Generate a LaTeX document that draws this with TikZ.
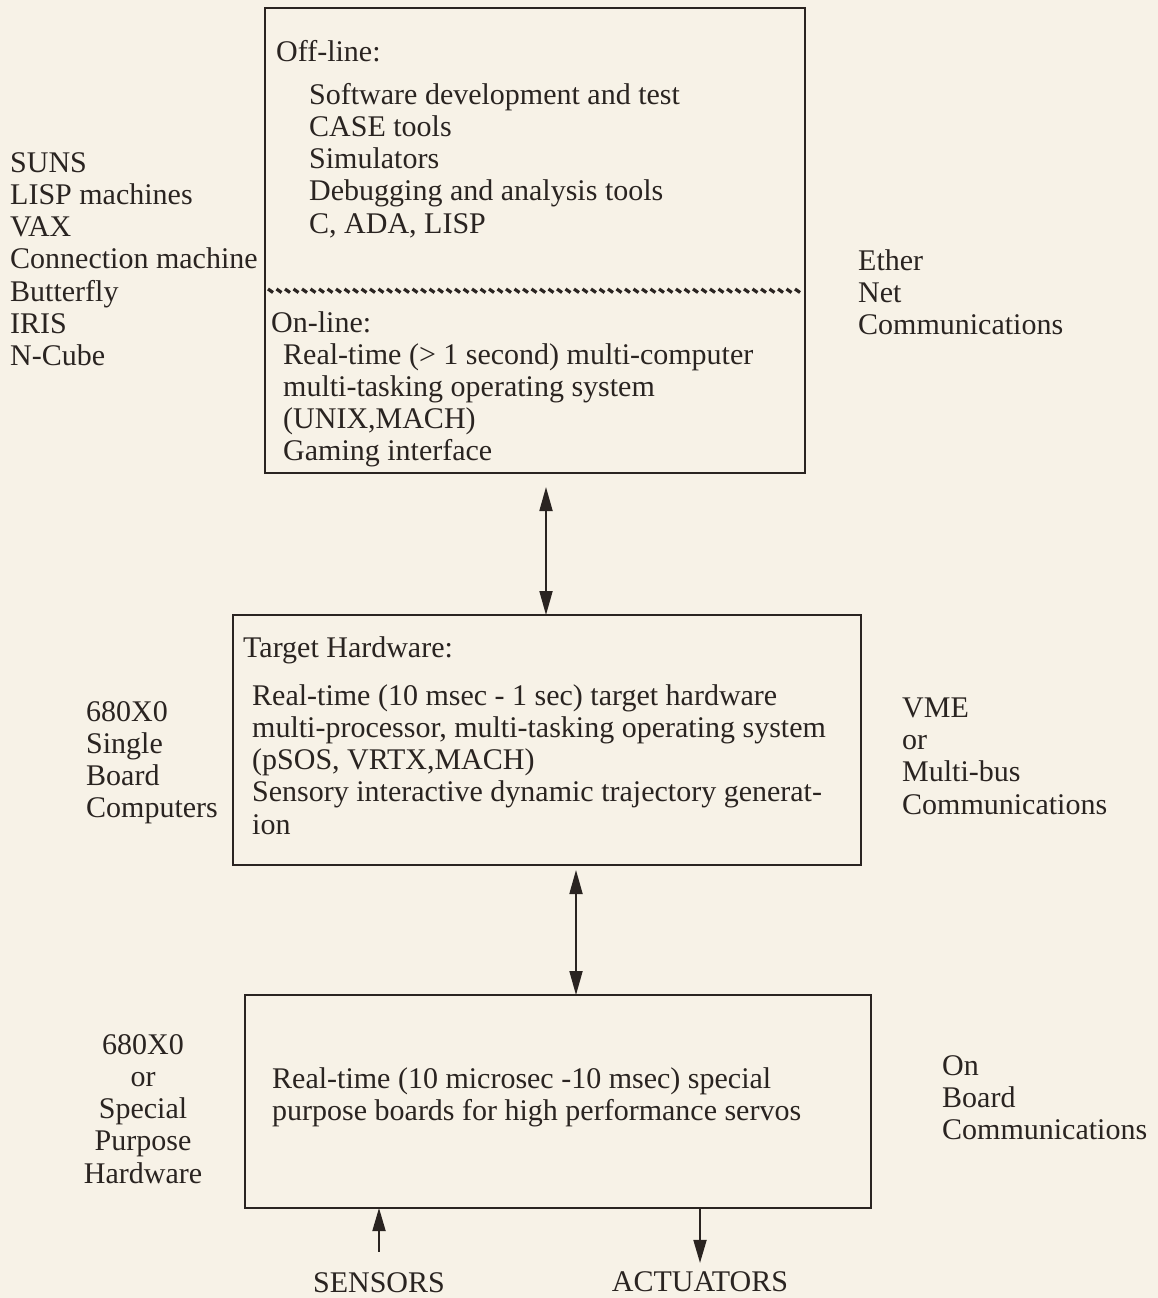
\documentclass[tikz,border=0pt]{standalone}
\usepackage{fontspec}
\setmainfont{Liberation Serif}
\usepackage{tikz}
\usetikzlibrary{arrows.meta,positioning,calc}
\definecolor{paper}{HTML}{F7F2E7}
\definecolor{ink}{HTML}{2A2421}
\tikzset{
  block/.style={rectangle,draw=ink,line width=2.2pt,inner sep=0,outer sep=0},
  txt/.style={anchor=base west,align=left,inner sep=0,text=ink,font=\fontsize{30}{32.3}\selectfont},
  ctxt/.style={txt,anchor=base,align=center},
  link/.style={draw=ink,line width=1.8pt,{Triangle[length=24pt,width=13pt]}-{Triangle[length=24pt,width=13pt]}},
  feed/.style={draw=ink,line width=1.8pt,-{Triangle[length=23pt,width=13pt]}}
}

\begin{document}
\begin{tikzpicture}[x=1pt,y=-1pt]
    % Page
    \fill[paper] (0,0) rectangle (1158,1298);
    \useasboundingbox (0,0) rectangle (1158,1298);
    % Blocks
    \node[block,minimum width=540pt,minimum height=465pt] (host)   at (535,240.5) {};
    \node[block,minimum width=628pt,minimum height=250pt] (target) at (547,740) {};
    \node[block,minimum width=626pt,minimum height=213pt] (servo)  at (558,1101.5) {};
    % Off-line / on-line divider
    \foreach \k in {0,...,62} \draw[ink,line width=3.2pt] (268+8.5*\k,289) -- ++(5,3.5);
    % Host block text (multi-line nodes sit on their last baseline)
    \node[txt] (offl) at (276,62) {Off-line:};
    \node[txt] (offitems) at (309,233.2) {Software development and test\\CASE tools\\Simulators\\Debugging and analysis tools\\C, ADA, LISP};
    \node[txt] (onl) at (271,332) {On-line:};
    \node[txt] (onitems) at (283,460.9) {Real-time (> 1 second) multi-computer\\multi-tasking operating system\\(UNIX,MACH)\\Gaming interface};
    \node[txt] (hostl) at (10,365.8) {SUNS\\LISP machines\\VAX\\Connection machine\\Butterfly\\IRIS\\N-Cube};
    \node[txt] (hostr) at (858,334.6) {Ether\\Net\\Communications};
    % Target block text
    \node[txt] (targl) at (243,657) {Target Hardware:};
    \node[txt] (targitems) at (252,834.2) {Real-time (10 msec - 1 sec) target hardware\\multi-processor, multi-tasking operating system\\(pSOS, VRTX,MACH)\\Sensory interactive dynamic trajectory generat-\\ion};
    \node[txt] (targleft) at (86,817.9) {680X0\\Single\\Board\\Computers};
    \node[txt] (targright) at (902,814) {VME\\or\\Multi-bus\\Communications};
    % Servo block text
    \node[txt] (servoitems) at (272,1120.3) {Real-time (10 microsec -10 msec) special\\purpose boards for high performance servos};
    \node[ctxt] (servoleft) at (143,1183.2) {680X0\\or\\Special\\Purpose\\Hardware};
    \node[txt] (servoright) at (942,1139.6) {On\\Board\\Communications};
    % I/O labels
    \node[ctxt] (sensors) at (379,1292) {SENSORS};
    \node[ctxt] (actuators) at (700,1291) {ACTUATORS};
    % Connections
    \draw[link] ([xshift=11pt,yshift=-14pt]host.south) -- ([xshift=-1pt]target.north);
    \draw[link] ([xshift=29pt,yshift=-5pt]target.south) -- ([xshift=18pt]servo.north);
    \draw[feed] ([yshift=20pt]sensors.north) -- (sensors.north |- servo.south);
    \draw[feed] (actuators.north |- servo.south) -- ([yshift=8pt]actuators.north);
  \end{tikzpicture}
\end{document}
